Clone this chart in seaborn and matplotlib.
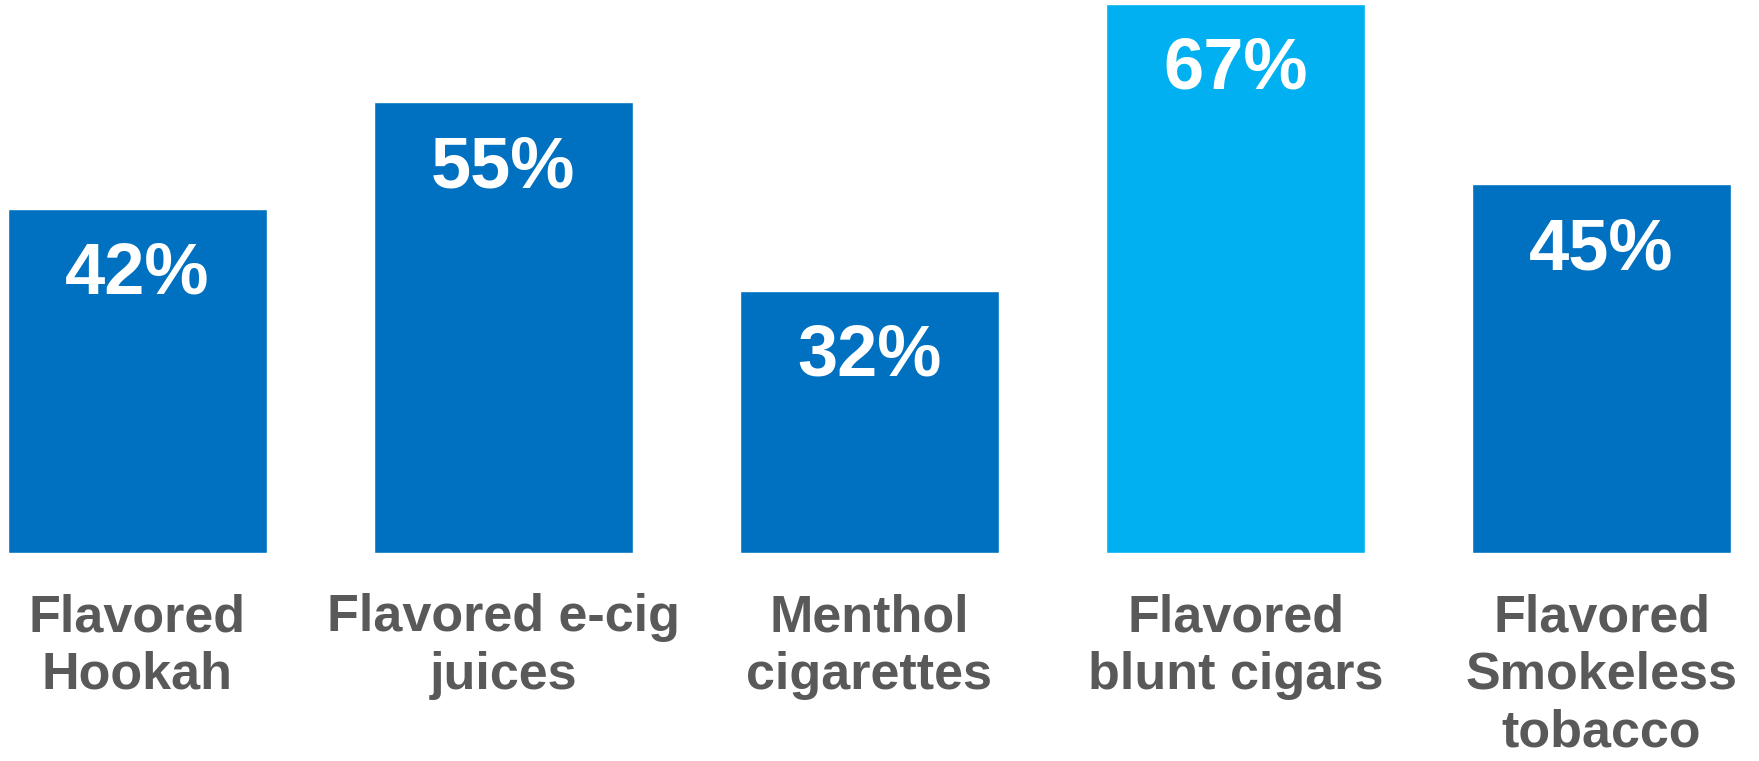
import matplotlib
matplotlib.use("Agg")
import matplotlib.pyplot as plt
import seaborn as sns
import pandas as pd

# chart data
categories = ["Flavored\nHookah", "Flavored e-cig\njuices", "Menthol\ncigarettes",
              "Flavored\nblunt cigars", "Flavored\nSmokeless\ntobacco"]
values = [42, 55, 32, 67, 45]
labels = ["42%", "55%", "32%", "67%", "45%"]
bar_colors = ["#0070C0", "#0070C0", "#0070C0", "#00B0F0", "#0070C0"]

sns.set_style("white")
plt.rcParams["font.family"] = ["Liberation Sans", "DejaVu Sans"]

df = pd.DataFrame({"cat": categories, "val": values})

fig = plt.figure(figsize=(17.59, 7.61), dpi=100)
ax = fig.add_axes([0, 0.2733, 1, 0.7267])

sns.barplot(data=df, x="cat", y="val", hue="cat", palette=bar_colors,
            legend=False, width=0.708, saturation=1, ax=ax)

ax.set_xlim(-0.375, 4.43)
ax.set_ylim(0, 67.5)

# value labels inside the bars
for i, v in enumerate(values):
    ax.annotate(labels[i], xy=(i, v), xytext=(0, -61), textcoords="offset points",
                ha="center", va="baseline", color="white",
                fontsize=52, fontweight="bold")

ax.set_xlabel("")
ax.set_ylabel("")
ax.set_yticks([])
ax.tick_params(axis="x", length=0, pad=29)
for t in ax.get_xticklabels():
    t.set_fontsize(37.5)
    t.set_fontweight("bold")
    t.set_color("#595959")
    t.set_linespacing(1.22)

sns.despine(ax=ax, left=True, bottom=True)

fig.savefig("out.png", dpi=100)
